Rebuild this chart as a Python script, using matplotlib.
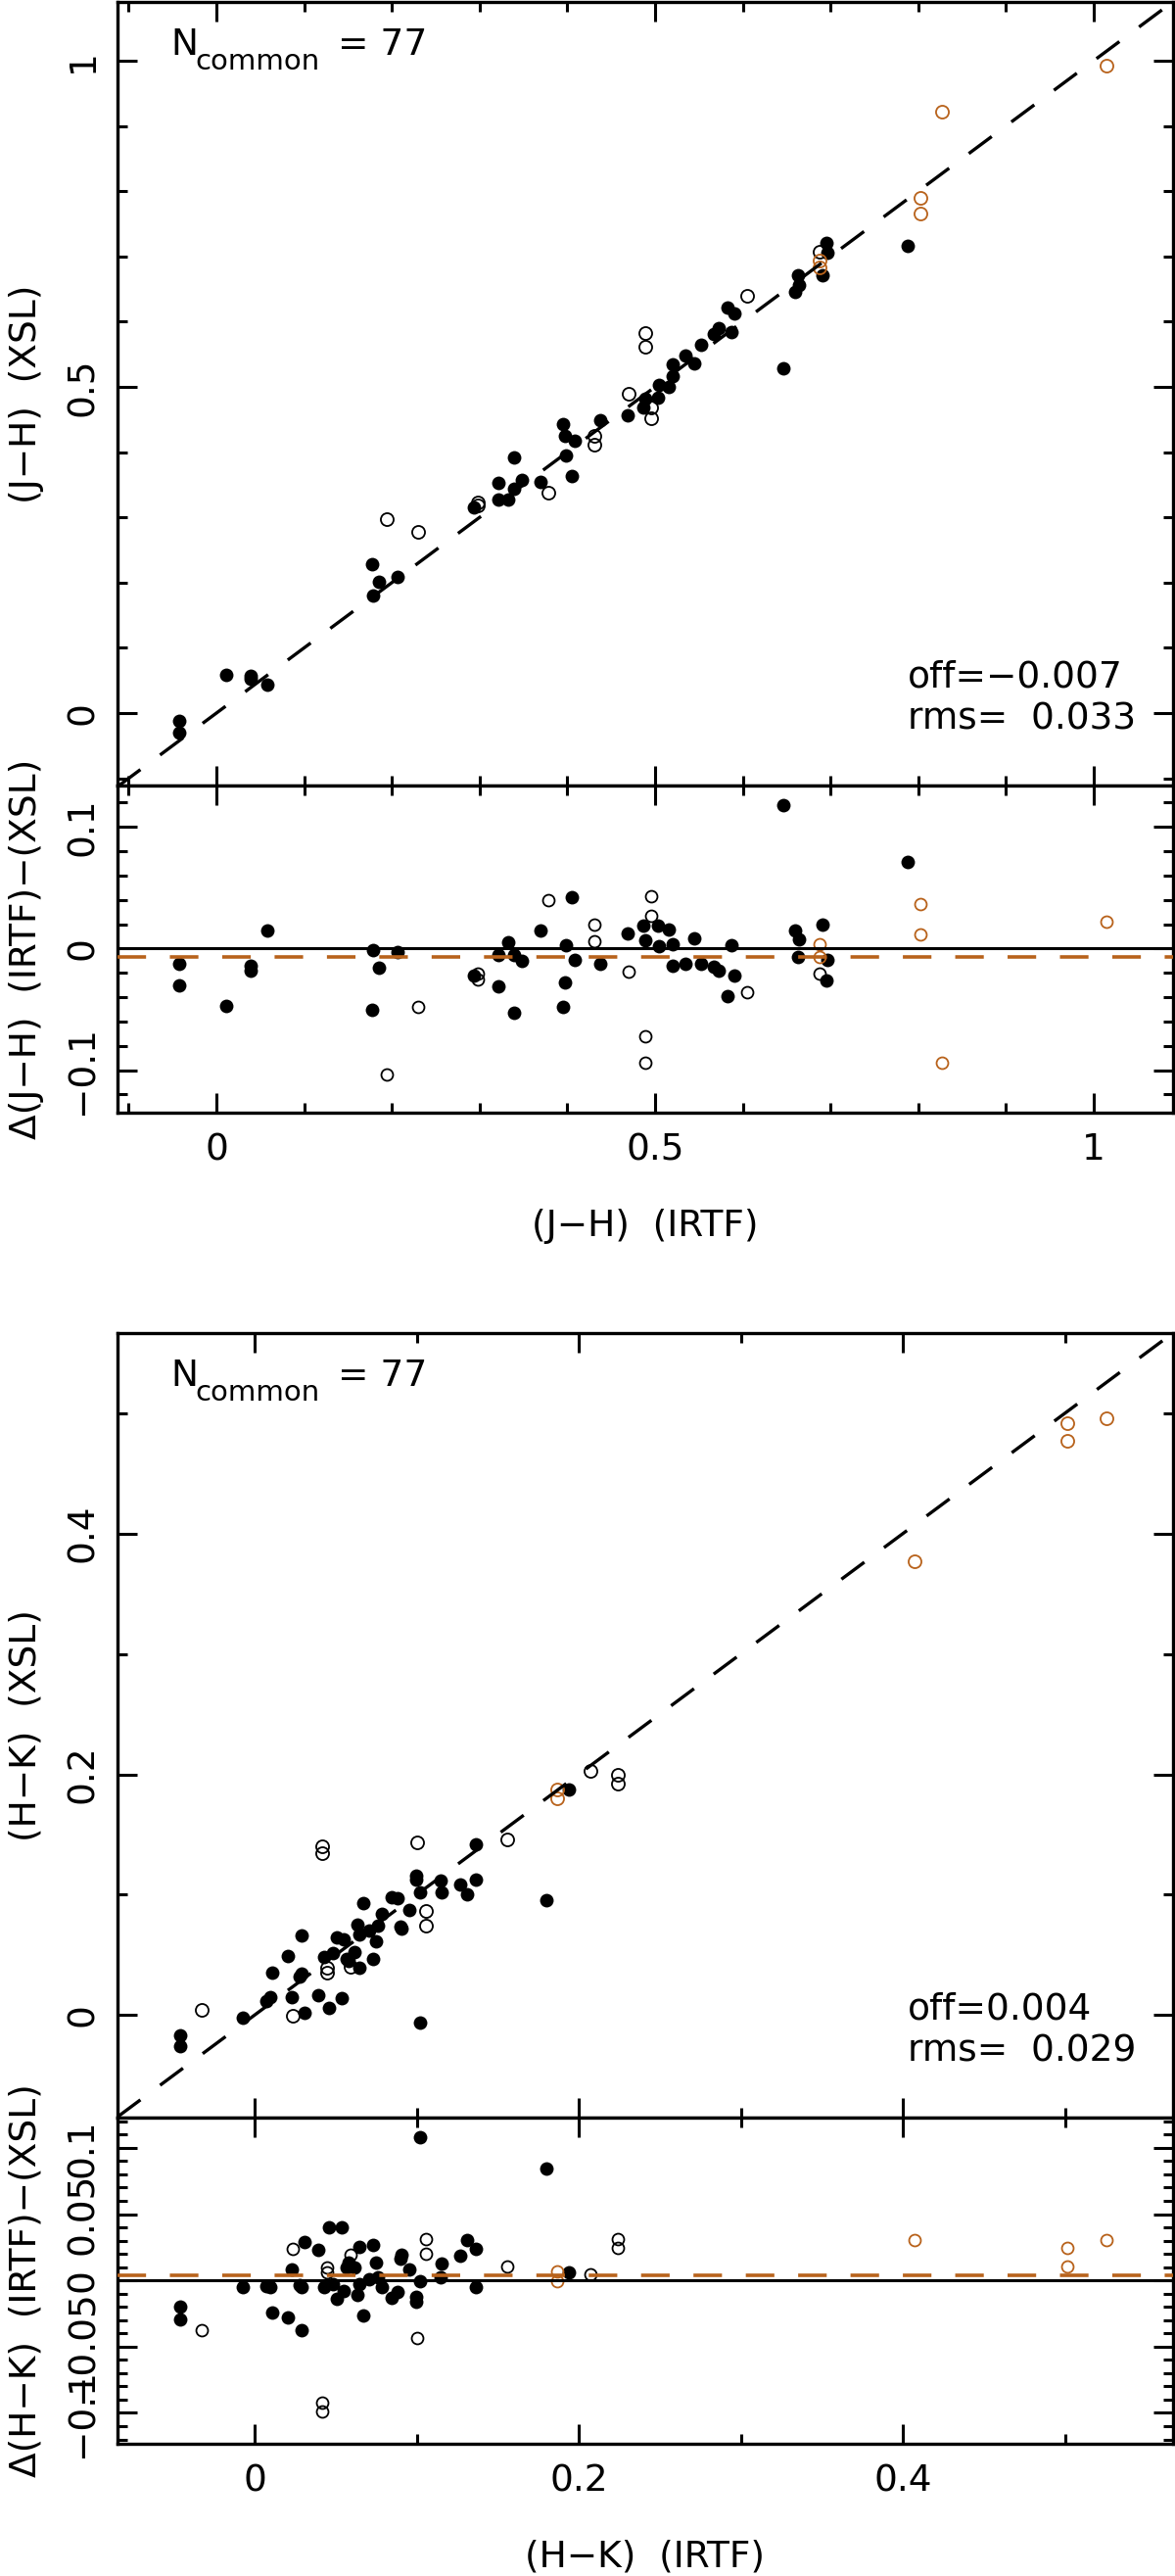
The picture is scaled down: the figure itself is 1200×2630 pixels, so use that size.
import numpy as np
import matplotlib
matplotlib.use("Agg")
import matplotlib.pyplot as plt
from matplotlib.ticker import MultipleLocator

plt.rcParams['font.family'] = ['DejaVu Sans']
plt.rcParams['lines.scale_dashes'] = False

ORANGE = '#B8621B'

# (J-H): IRTF on x, XSL on y
jh_filled_irtf = [-0.042, -0.042, 0.011, 0.0386, 0.0386, 0.058, 0.177, 0.179, 0.185, 0.206,
                  0.293, 0.322, 0.322, 0.333, 0.339, 0.339, 0.348, 0.369, 0.395, 0.397,
                  0.398, 0.405, 0.408, 0.437, 0.469, 0.487, 0.489, 0.503, 0.505, 0.516,
                  0.520, 0.520, 0.535, 0.545, 0.552, 0.567, 0.572, 0.583, 0.587, 0.590,
                  0.646, 0.660, 0.664, 0.6635, 0.691, 0.696, 0.695, 0.788]
jh_filled_xsl = [-0.0297, -0.012, 0.058, 0.0566, 0.0526, 0.0436, 0.2277, 0.1806, 0.2006, 0.209,
                 0.3154, 0.353, 0.3276, 0.328, 0.392, 0.3446, 0.358, 0.3546, 0.443, 0.425,
                 0.395, 0.363, 0.417, 0.4493, 0.4563, 0.4682, 0.4823, 0.4842, 0.503, 0.5006,
                 0.5166, 0.534, 0.5473, 0.5363, 0.5643, 0.5817, 0.590, 0.622, 0.5843, 0.6123,
                 0.5281, 0.6456, 0.6563, 0.6708, 0.6716, 0.7057, 0.7213, 0.7169]
jh_open_irtf = [0.194, 0.2297, 0.298, 0.298, 0.378, 0.4307, 0.4307, 0.470, 0.489, 0.489,
                0.495, 0.495, 0.6045, 0.687]
jh_open_xsl = [0.2975, 0.2777, 0.3187, 0.3236, 0.3386, 0.4247, 0.4113, 0.489, 0.583, 0.5613,
               0.468, 0.452, 0.6402, 0.7077]
jh_flag_irtf = [0.687, 0.687, 0.802, 0.802, 0.8275, 1.0145]
jh_flag_xsl = [0.6833, 0.6943, 0.7653, 0.7902, 0.9215, 0.9925]

# (H-K)
hk_filled_irtf = [-0.0461, -0.0461, -0.0073, 0.0071, 0.0094, 0.0110, 0.0205, 0.0228, 0.0279, 0.0290,
                  0.0290, 0.0307, 0.0395, 0.0429, 0.0457, 0.0482, 0.0506, 0.0538, 0.0552, 0.0568,
                  0.0580, 0.0614, 0.0637, 0.0644, 0.0649, 0.0668, 0.0707, 0.0730, 0.0748, 0.0764,
                  0.0788, 0.0845, 0.0880, 0.0903, 0.0908, 0.0956, 0.0996, 0.0996, 0.1019, 0.1019,
                  0.1146, 0.1153, 0.1269, 0.1308, 0.1366, 0.1366, 0.1801, 0.1939]
hk_filled_xsl = [-0.0169, -0.026, -0.0019, 0.0117, 0.0148, 0.0353, 0.0487, 0.0147, 0.0316, 0.0344,
                 0.0663, 0.0017, 0.0167, 0.0483, 0.0056, 0.0511, 0.0646, 0.0137, 0.063, 0.047,
                 0.0448, 0.052, 0.0748, 0.0673, 0.0396, 0.093, 0.0699, 0.0465, 0.0613, 0.0744,
                 0.0842, 0.098, 0.0971, 0.0736, 0.0716, 0.0875, 0.1155, 0.1123, 0.1023, -0.0062,
                 0.1119, 0.1023, 0.1085, 0.1006, 0.142, 0.1125, 0.0954, 0.1877]
hk_open_irtf = [-0.0329, 0.0237, 0.0418, 0.0418, 0.0448, 0.0448, 0.0591, 0.1000, 0.1060, 0.1060,
                0.1558, 0.2071, 0.224, 0.224]
hk_open_xsl = [0.0044, -0.0004, 0.1405, 0.1344, 0.0391, 0.0354, 0.0399, 0.1435, 0.0861, 0.0745,
               0.1457, 0.2027, 0.1925, 0.1992]
hk_flag_irtf = [0.1868, 0.1868, 0.4073, 0.5015, 0.5015, 0.5257]
hk_flag_xsl = [0.1872, 0.1799, 0.3766, 0.4914, 0.4767, 0.4955]

# summary numbers printed on the panels
n_common = [77, 77]
offsets = [-0.007, 0.004]
off_text = ['off=\u22120.007', 'off=0.004']
rms_text = ['rms=  0.033', 'rms=  0.029']

colors_name = ['J\u2212H', 'H\u2212K']

# ticks and their labels
jh_ticks = [0, 0.5, 1]
jh_ticklabels = ['0', '0.5', '1']
jh_res_ticks = [-0.1, 0, 0.1]
jh_res_ticklabels = ['\u22120.1', '0', '0.1']
hk_ticks = [0, 0.2, 0.4]
hk_ticklabels = ['0', '0.2', '0.4']
hk_res_ticks = [-0.1, -0.05, 0, 0.05, 0.1]
hk_res_ticklabels = ['\u22120.1', '\u22120.05', '0', '0.05', '0.1']

FS = 27


def style_axes(ax):
    for s in ax.spines.values():
        s.set_linewidth(2.4)
    ax.tick_params(which='both', direction='in', top=True, right=True, width=2.2,
                   labelsize=FS)
    ax.tick_params(which='major', length=14.4)
    ax.tick_params(which='minor', length=7.2)
    ax.tick_params(axis='x', pad=14.4)
    ax.tick_params(axis='y', pad=12.5)


def draw_pair(fig, rect_main, rect_res, data, xlim, ylim, res_lim, ticks, ticklabels,
              minor, res_ticks, res_ticklabels, res_minor, idx):
    fx, fy, ox, oy, cx, cy = [np.asarray(a) for a in data]
    name = colors_name[idx]

    ax = fig.add_axes(rect_main)
    ax.plot(fx, fy, 'o', ms=10, color='k', mec='none', zorder=2)
    ax.plot(ox, oy, 'o', ms=9.4, mfc='none', mec='k', mew=1.3, zorder=2)
    ax.plot(cx, cy, 'o', ms=9.4, mfc='none', mec=ORANGE, mew=1.3, zorder=2)
    ax.plot([xlim[0], xlim[1]], [xlim[0], xlim[1]], color='k', lw=2.4,
            dashes=(21, 18), zorder=3)
    ax.set_xlim(xlim)
    ax.set_ylim(ylim)
    ax.set_xticks(ticks)
    ax.set_xticklabels([])
    ax.set_yticks(ticks, labels=ticklabels, rotation=90, va='center')
    ax.xaxis.set_minor_locator(MultipleLocator(minor))
    ax.yaxis.set_minor_locator(MultipleLocator(minor))
    style_axes(ax)
    ax.set_ylabel('(%s)  (XSL)' % name, fontsize=FS)
    ax.yaxis.set_label_coords(-0.070, 0.5)

    # N_common = 77
    ax.text(0.0501, 0.9331, 'N', transform=ax.transAxes, fontsize=FS,
            ha='left', va='baseline')
    ax.text(0.0737, 0.9138, 'common', transform=ax.transAxes, fontsize=21,
            ha='left', va='baseline')
    ax.text(0.2087, 0.9331, '= %d' % n_common[idx], transform=ax.transAxes,
            fontsize=FS, ha='left', va='baseline')
    ax.text(0.7486, 0.1255, off_text[idx], transform=ax.transAxes, fontsize=FS,
            ha='left', va='baseline')
    ax.text(0.7486, 0.0721, rms_text[idx], transform=ax.transAxes, fontsize=FS,
            ha='left', va='baseline')

    # residuals IRTF - XSL
    ar = fig.add_axes(rect_res)
    ar.plot(fx, fx - fy, 'o', ms=10, color='k', mec='none', zorder=2)
    ar.plot(ox, ox - oy, 'o', ms=8.6, mfc='none', mec='k', mew=1.3, zorder=2)
    ar.plot(cx, cx - cy, 'o', ms=8.6, mfc='none', mec=ORANGE, mew=1.3, zorder=2)
    ar.axhline(0, color='k', lw=2.2, zorder=3)
    ar.axhline(offsets[idx], color=ORANGE, lw=2.6, dashes=(21, 17.5), zorder=3)
    ar.set_xlim(xlim)
    ar.set_ylim(res_lim)
    ar.set_xticks(ticks, labels=ticklabels)
    ar.set_yticks(res_ticks, labels=res_ticklabels, rotation=90, va='center')
    ar.xaxis.set_minor_locator(MultipleLocator(minor))
    ar.yaxis.set_minor_locator(MultipleLocator(res_minor))
    style_axes(ar)
    ar.set_ylabel('\u0394(%s)  (IRTF)\u2212(XSL)' % name, fontsize=FS)
    ar.yaxis.set_label_coords(-0.070, 0.5)
    ar.set_xlabel('(%s)  (IRTF)' % name, fontsize=FS)
    ar.xaxis.set_label_coords(0.5, -0.293)


fig = plt.figure(figsize=(12, 26.3), dpi=100)

draw_pair(fig, [0.1, 0.69506, 0.89833, 0.30418], [0.1, 0.56806, 0.89833, 0.12700],
          (jh_filled_irtf, jh_filled_xsl, jh_open_irtf, jh_open_xsl, jh_flag_irtf, jh_flag_xsl),
          (-0.1127, 1.0904), (-0.111, 1.090), (-0.135, 0.134),
          jh_ticks, jh_ticklabels, 0.1, jh_res_ticks, jh_res_ticklabels, 0.02, 0)

draw_pair(fig, [0.1, 0.17795, 0.89833, 0.30456], [0.1, 0.05133, 0.89833, 0.12662],
          (hk_filled_irtf, hk_filled_xsl, hk_open_irtf, hk_open_xsl, hk_flag_irtf, hk_flag_xsl),
          (-0.0846, 0.5667), (-0.0852, 0.5666), (-0.1233, 0.1228),
          hk_ticks, hk_ticklabels, 0.1, hk_res_ticks, hk_res_ticklabels, 0.01, 1)

fig.savefig('out.png', dpi=100)
